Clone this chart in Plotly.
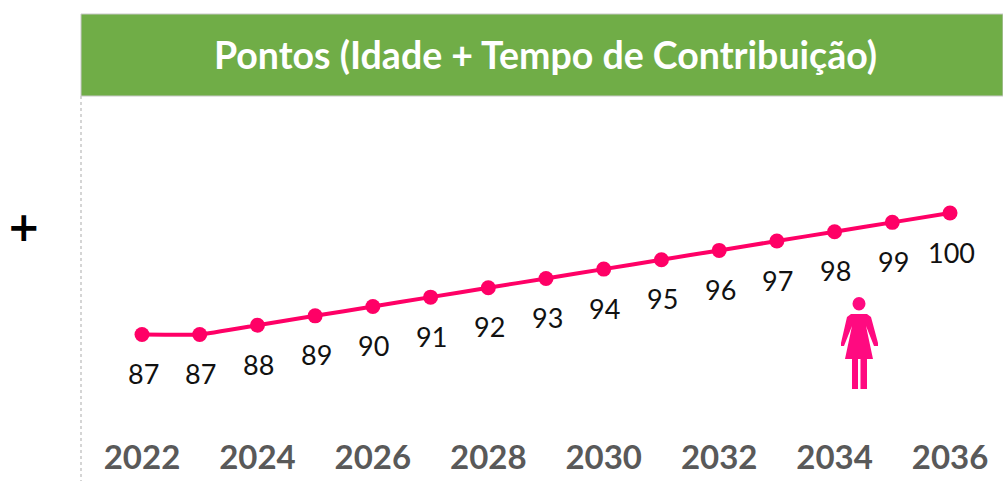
import plotly.graph_objects as go

W, H = 1003, 481
L, R, T, B = 81, 0, 96, 46

anos = list(range(2022, 2037))
pontos = [87, 87, 88, 89, 90, 91, 92, 93, 94, 95, 96, 97, 98, 99, 100]
anos_ticks = [2022, 2024, 2026, 2028, 2030, 2032, 2034, 2036]
titulo = "<b>Pontos (Idade + Tempo de Contribuição)</b>"
ROSA = "#FF0066"
ROSA_ICONE = "#FF0A80"


def px(x):
    return (x - L) / (W - L - R)


def py(y):
    return 1 - (y - T) / (H - T - B)


def path(points):
    return "M " + " L ".join(f"{px(x):.5f},{py(y):.5f}" for x, y in points) + " Z"


fig = go.Figure()
fig.add_trace(go.Scatter(
    x=anos, y=pontos, mode="lines+markers",
    line=dict(color=ROSA, width=4, shape="spline", smoothing=0.3),
    marker=dict(color=ROSA, size=15),
    hoverinfo="skip", showlegend=False,
))

annotations = [
    dict(x=a, y=p, text=str(p), showarrow=False, yshift=-39, xshift=1,
         xanchor="center", yanchor="middle",
         font=dict(family="Lato", size=27, color="#111111"))
    for a, p in zip(anos, pontos)
]
annotations.append(dict(x=px(545), y=py(55), xref="paper", yref="paper", text=titulo,
                        xanchor="center", yanchor="middle",
                        showarrow=False, font=dict(family="Lato", size=37.5, color="white")))
annotations.append(dict(x=px(24), y=py(227), xref="paper", yref="paper", text="<b>+</b>",
                        xanchor="center", yanchor="middle",
                        showarrow=False, font=dict(family="DejaVu Sans", size=40, color="black")))

shapes = [
    dict(type="rect", xref="paper", yref="paper", layer="below",
         x0=px(81), x1=px(1003), y0=py(96), y1=py(14),
         fillcolor="#70AD47", line=dict(color="#c8c8c8", width=1)),
    dict(type="line", xref="paper", yref="paper", layer="below",
         x0=px(81), x1=px(81), y0=py(96), y1=py(481),
         line=dict(color="#c8c8c8", width=1.5, dash="dot")),
]
# Ícone de mulher (decoração)
shapes.append(dict(type="circle", xref="paper", yref="paper",
                   x0=px(852.5), x1=px(865.5), y0=py(310.5), y1=py(297),
                   fillcolor=ROSA_ICONE, line_width=0))
shapes.append(dict(type="path", xref="paper", yref="paper", fillcolor=ROSA_ICONE, line_width=0,
                   path=path([(851, 314), (867, 314), (871, 317), (878, 343), (878, 346),
                              (874, 346), (866, 326), (873, 359), (867, 359), (867, 389),
                              (860.5, 389), (860.5, 359), (858, 359), (858, 389), (852, 389),
                              (852, 359), (845, 359), (852, 326), (844, 346), (841, 346),
                              (841, 343), (847, 317)])))

fig.update_layout(
    width=W, height=H,
    margin=dict(l=L, r=R, t=T, b=B, pad=0),
    paper_bgcolor="white", plot_bgcolor="white",
    annotations=annotations, shapes=shapes,
    xaxis=dict(range=[2020.943, 2036.918], tickmode="array", tickvals=anos_ticks,
               ticktext=[str(a) for a in anos_ticks], showgrid=False, zeroline=False,
               showline=False, ticks="", ticklabelstandoff=0,
               tickfont=dict(family="Lato", size=33, color="#595959", weight="bold")),
    yaxis=dict(range=[76.25, 112.52], visible=False),
)
fig.write_html("out.html", config=dict(displayModeBar=False),
               post_script="document.body.style.margin='0';document.body.style.overflow='hidden';")
